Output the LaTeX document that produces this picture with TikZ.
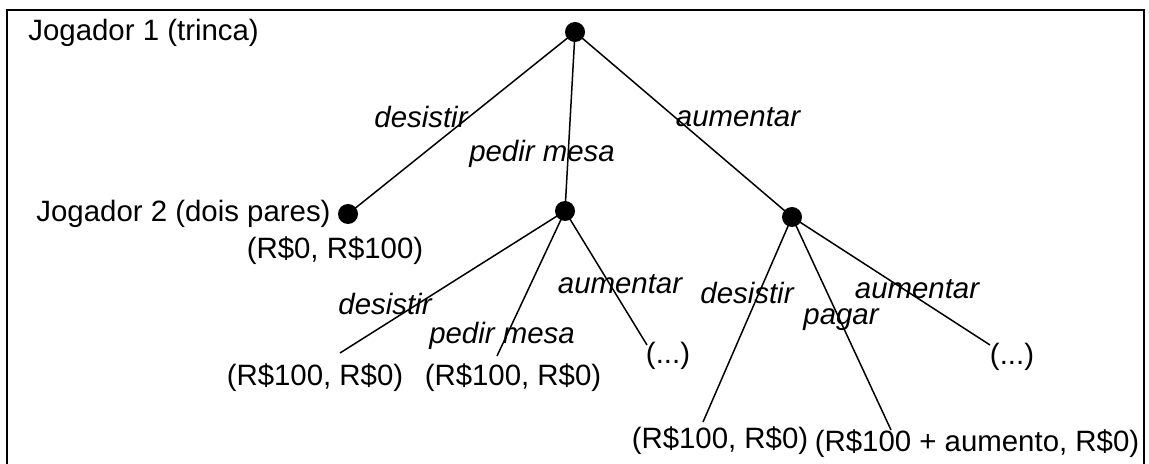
\documentclass[tikz,border=0pt]{standalone}
\usepackage{fontspec}
\setmainfont{Liberation Sans}
\begin{document}
\begin{tikzpicture}[x=0.5pt,y=-0.5pt,
  every node/.style={font=\fontsize{14.7}{17}\selectfont, inner sep=0pt},
  dot/.style={circle, fill=black, inner sep=0pt, minimum size=10pt},
  edge/.style={line width=0.75pt},
  act/.style={font=\fontsize{14.7}{17}\selectfont\itshape},
  pay/.style={}]
\useasboundingbox (0,0) rectangle (1149,464);
\draw[line width=0.8pt] (7,470) -- (7,10) -- (1144,10) -- (1144,470);
% decision nodes
\node[dot] (A) at (575,32) {};
\node[dot] (B) at (348,214) {};
\node[dot] (C) at (565,211) {};
\node[dot] (D) at (792,217) {};
% free ends
\coordinate (c1) at (340,353);
\coordinate (c2) at (497,356);
\coordinate (c3) at (647,345);
\coordinate (d1) at (703,422);
\coordinate (d2) at (891,430);
\coordinate (d3) at (990,345);
% edges
\draw[edge] (A.center) -- (B.center);
\draw[edge] (A.center) -- (C.center);
\draw[edge] (A.center) -- (D.center);
\draw[edge] (C.center) -- (c1);
\draw[edge] (C.center) -- (c2);
\draw[edge] (C.center) -- (c3);
\draw[edge] (D.center) -- (d1);
\draw[edge] (D.center) -- (d2);
\draw[edge] (D.center) -- (d3);
% player labels
\node[anchor=west] (j1) at (28,33) {Jogador 1 (trinca)};
\node[anchor=east] (j2) at (331,214) {Jogador 2 (dois pares)};
% action labels
\node[act] (l1) at (421,117) {desistir};
\node[act] (l2) at (542,154) {pedir mesa};
\node[act] (l3) at (738,117) {aumentar};
\node[act] (l4) at (385,304) {desistir};
\node[act] (l5) at (502,336) {pedir mesa};
\node[act] (l6) at (620,284) {aumentar};
\node[act] (l7) at (747,293) {desistir};
\node[act] (l8) at (841,320) {pagar};
\node[act] (l9) at (917,289) {aumentar};
% payoffs
\node[pay] (p0) at (335,251) {(R\$0, R\$100)};
\node[pay] (p1) at (315,378) {(R\$100, R\$0)};
\node[pay] (p2) at (513,378) {(R\$100, R\$0)};
\node[pay] (p3) at (668,356) {(...)};
\node[pay] (p4) at (720,441) {(R\$100, R\$0)};
\node[pay] (p5) at (977,444) {(R\$100 + aumento, R\$0)};
\node[pay] (p6) at (1012,357) {(...)};
\end{tikzpicture}
\end{document}
